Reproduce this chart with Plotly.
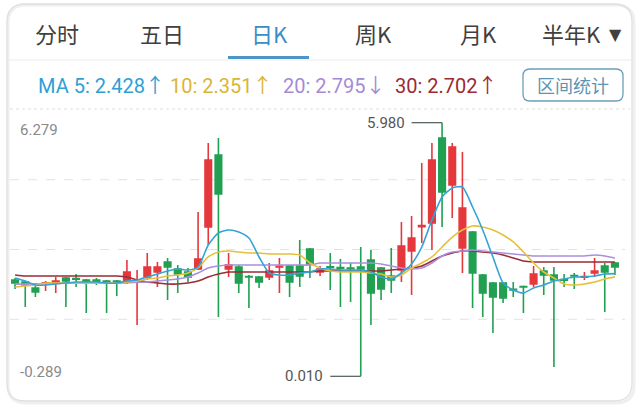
import plotly.graph_objects as go

# ---------------- data ----------------
idx = list(range(60))
opens = [2.277, 2.230, 2.089, 2.206, 2.206, 2.324, 2.310, 2.277, 2.277, 2.253,
         2.253, 2.230, 2.240, 2.348, 2.465, 2.701, 2.536, 2.465, 2.536, 3.525,
         5.220, 2.536, 2.583, 2.360, 2.348, 2.348, 2.583, 2.607, 2.607, 3.007,
         2.465, 2.590, 2.570, 2.560, 2.583, 2.748, 2.560, 2.371, 2.512, 2.960,
         3.530, 3.619, 5.620, 4.513, 3.030, 3.407, 2.395, 2.206, 2.206, 2.060,
         2.125, 2.183, 2.489, 2.395, 2.285, 2.380, 2.340, 2.442, 2.607, 2.677]
highs = [2.324, 2.253, 2.136, 2.253, 2.348, 2.348, 2.418, 2.300, 2.324, 2.277,
         2.277, 2.748, 2.512, 2.913, 2.701, 2.795, 2.630, 2.560, 3.878, 5.502,
         5.620, 2.913, 2.630, 2.395, 2.371, 2.677, 2.795, 2.630, 3.219, 3.030,
         2.607, 2.913, 2.771, 2.677, 3.054, 2.983, 2.583, 3.030, 3.642, 3.784,
         5.031, 5.502, 5.980, 5.502, 5.290, 3.430, 2.418, 2.230, 2.230, 2.230,
         2.150, 2.607, 2.583, 2.583, 2.418, 2.442, 2.465, 2.795, 2.677, 2.700]
lows = [2.065, 1.641, 1.877, 2.018, 1.971, 1.641, 2.112, 1.500, 2.159, 1.500,
        1.900, 2.183, 1.218, 2.277, 2.112, 1.806, 1.971, 2.230, 2.512, 3.101,
        1.406, 2.348, 1.971, 1.618, 2.089, 2.277, 1.971, 1.877, 2.112, 2.324,
        2.371, 2.042, 1.641, 1.759, 0.010, 1.218, 1.806, 1.971, 2.230, 1.924,
        3.148, 2.983, 3.525, 3.737, 2.442, 1.618, 1.406, 1.029, 1.735, 1.877,
        1.500, 2.112, 1.924, 0.229, 2.112, 2.065, 2.277, 2.348, 1.524, 2.395]
closes = [2.206, 2.159, 1.995, 2.214, 2.253, 2.253, 2.295, 2.230, 2.230, 2.206,
          2.206, 2.465, 2.253, 2.583, 2.583, 2.583, 2.418, 2.348, 2.771, 5.102,
          4.302, 2.630, 2.206, 2.348, 2.230, 2.489, 2.600, 2.230, 2.371, 2.654,
          2.536, 2.575, 2.555, 2.545, 2.536, 1.971, 2.065, 2.277, 3.077, 3.266,
          3.560, 5.102, 4.349, 5.408, 3.972, 2.442, 1.971, 1.877, 1.853, 2.042,
          2.112, 2.418, 2.395, 2.277, 2.270, 2.371, 2.360, 2.489, 2.465, 2.583]

ma5 = [2.324, 2.253, 2.159, 2.159, 2.183, 2.206, 2.230, 2.230, 2.230, 2.206,
       2.206, 2.253, 2.277, 2.348, 2.418, 2.489, 2.536, 2.512, 2.583, 3.101,
       3.383, 3.454, 3.407, 3.266, 2.819, 2.442, 2.395, 2.395, 2.442, 2.465,
       2.536, 2.536, 2.512, 2.512, 2.512, 2.465, 2.348, 2.300, 2.442, 2.654,
       3.054, 3.689, 4.231, 4.443, 4.466, 3.996, 3.454, 2.819, 2.206, 2.042,
       1.971, 2.089, 2.159, 2.253, 2.300, 2.348, 2.348, 2.371, 2.418, 2.428]
ma10 = [2.112, 2.136, 2.159, 2.206, 2.206, 2.206, 2.206, 2.206, 2.206, 2.206,
        2.206, 2.230, 2.253, 2.300, 2.324, 2.371, 2.395, 2.442, 2.560, 2.819,
        2.936, 2.960, 2.936, 2.913, 2.913, 2.889, 2.889, 2.889, 2.866, 2.677,
        2.560, 2.489, 2.465, 2.465, 2.465, 2.442, 2.418, 2.348, 2.395, 2.560,
        2.677, 2.819, 3.054, 3.289, 3.454, 3.548, 3.525, 3.454, 3.337, 3.172,
        2.936, 2.677, 2.465, 2.324, 2.183, 2.159, 2.183, 2.230, 2.300, 2.351]
ma20 = [2.180, 2.180, 2.190, 2.190, 2.200, 2.200, 2.200, 2.210, 2.210, 2.210,
        2.210, 2.210, 2.220, 2.230, 2.253, 2.277, 2.300, 2.348, 2.442, 2.560,
        2.607, 2.630, 2.630, 2.630, 2.630, 2.630, 2.630, 2.630, 2.630, 2.630,
        2.677, 2.677, 2.677, 2.677, 2.677, 2.677, 2.654, 2.607, 2.560, 2.536,
        2.560, 2.677, 2.842, 2.936, 2.960, 2.983, 2.960, 2.936, 2.913, 2.889,
        2.866, 2.842, 2.842, 2.842, 2.842, 2.842, 2.842, 2.866, 2.842, 2.795]
ma30 = [2.395, 2.371, 2.371, 2.371, 2.371, 2.371, 2.371, 2.371, 2.371, 2.371,
        2.371, 2.348, 2.277, 2.230, 2.206, 2.183, 2.183, 2.206, 2.253, 2.348,
        2.418, 2.465, 2.465, 2.465, 2.465, 2.465, 2.465, 2.465, 2.465, 2.465,
        2.489, 2.489, 2.489, 2.489, 2.489, 2.489, 2.489, 2.512, 2.536, 2.560,
        2.607, 2.724, 2.842, 2.913, 2.960, 2.960, 2.936, 2.913, 2.866, 2.795,
        2.724, 2.701, 2.701, 2.701, 2.701, 2.701, 2.701, 2.701, 2.701, 2.702]

tabs = ["分时", "五日", "日K", "周K", "月K", "半年K"]
ma_labels = ["MA 5: 2.428↑", "10: 2.351↑", "20: 2.795↓", "30: 2.702↑"]
y_top_label = "6.279"
y_bot_label = "-0.289"
Y_MAX = 6.279
Y_MIN = -0.289

# ---------------- styles ----------------
RED = "#e5383d"
GREEN = "#22a052"
C_MA5 = "#35a3d6"
C_MA10 = "#e6c03c"
C_MA20 = "#a98fde"
C_MA30 = "#9b2b35"
BLUE = "#3b8ec4"

W, H = 640, 408
L, R, T, B = 10, 20, 110, 19
PW, PH = W - L - R, H - T - B


def px(x):
    return (x - L) / PW


def py(y):
    return (H - B - y) / PH


fig = go.Figure()
fig.add_trace(go.Candlestick(
    x=idx, open=opens, high=highs, low=lows, close=closes,
    increasing=dict(line=dict(color=RED, width=1.6), fillcolor=RED),
    decreasing=dict(line=dict(color=GREEN, width=1.6), fillcolor=GREEN),
    whiskerwidth=0, hoverinfo="skip", showlegend=False))

for vals, col in [(ma30, C_MA30), (ma20, C_MA20), (ma10, C_MA10), (ma5, C_MA5)]:
    fig.add_trace(go.Scatter(x=idx, y=vals, mode="lines",
                             line=dict(color=col, width=1.6, shape="spline", smoothing=0.6),
                             hoverinfo="skip", showlegend=False))

shapes = []
# dashed gridlines
for k in (1, 2, 3):
    v = Y_MIN + k * (Y_MAX - Y_MIN) / 4
    shapes.append(dict(type="line", xref="paper", yref="y", x0=px(10), x1=px(625), y0=v, y1=v,
                       line=dict(color="#e2e2e2", width=1, dash="dash"), layer="below"))
# dotted separator at chart top
shapes.append(dict(type="line", xref="paper", yref="paper", x0=px(10), x1=px(630), y0=py(109), y1=py(109),
                   line=dict(color="#dedede", width=1, dash="dot"), layer="below"))
# tab separator
shapes.append(dict(type="line", xref="paper", yref="paper", x0=px(8), x1=px(632), y0=py(60), y1=py(60),
                   line=dict(color="#ebebeb", width=1.2)))
# active tab underline
shapes.append(dict(type="rect", xref="paper", yref="paper", x0=px(228), x1=px(309), y0=py(59), y1=py(56),
                   line=dict(width=0), fillcolor="#4d95c6"))


def rrect(x0, y0, x1, y1, r):
    rx, ry = r / PW, r / PH
    X0, X1, Y0, Y1 = px(x0), px(x1), py(y0), py(y1)  # Y0 top, Y1 bottom
    return (f"M{X0+rx},{Y0} L{X1-rx},{Y0} Q{X1},{Y0} {X1},{Y0-ry} "
            f"L{X1},{Y1+ry} Q{X1},{Y1} {X1-rx},{Y1} L{X0+rx},{Y1} "
            f"Q{X0},{Y1} {X0},{Y1+ry} L{X0},{Y0-ry} Q{X0},{Y0} {X0+rx},{Y0} Z")


# card shadow + outline
shapes.append(dict(type="path", xref="paper", yref="paper", path=rrect(8, 5, 634, 403, 18),
                   line=dict(color="#efefef", width=3), layer="below"))
shapes.append(dict(type="path", xref="paper", yref="paper", path=rrect(7, 4, 632, 401, 18),
                   line=dict(color="#e0e0e0", width=1.3), layer="below"))
# button
shapes.append(dict(type="path", xref="paper", yref="paper", path=rrect(523, 69, 623, 101, 7),
                   line=dict(color="#6b9fba", width=1.3)))

# max / min leader lines
imax = max(idx, key=lambda i: highs[i])
imin = min(idx, key=lambda i: lows[i])
shapes.append(dict(type="line", xref="x", yref="y", x0=imax - 3.0, x1=imax, y0=highs[imax], y1=highs[imax],
                   line=dict(color="#4f5a55", width=1.2)))
shapes.append(dict(type="line", xref="x", yref="y", x0=imin - 3.0, x1=imin, y0=lows[imin], y1=lows[imin],
                   line=dict(color="#4f5a55", width=1.2)))

ann = []
tab_x = [57, 162, 269, 373, 478, 571]
for t, xx in zip(tabs, tab_x):
    ann.append(dict(text=t, x=px(xx), y=py(33), xref="paper", yref="paper", showarrow=False,
                    xanchor="center", yanchor="middle",
                    font=dict(family="Noto Sans CJK SC", size=22, color=BLUE if t == "日K" else "#404040")))
ann.append(dict(text="▼", x=px(615), y=py(34), xref="paper", yref="paper", showarrow=False,
                xanchor="center", yanchor="middle", font=dict(family="DejaVu Sans", size=16, color="#404040")))

leg_x = [36, 168, 281, 393]
for t, xx, col in zip(ma_labels, leg_x, ["#2f9fd4", "#dab535", "#a68ad8", "#9c2a32"]):
    body, arrow = t[:-1], t[-1]
    txt = f'{body}<span style="font-family:Noto Sans CJK SC">{arrow}</span>'
    ann.append(dict(text=txt, x=px(xx), y=py(85), xref="paper", yref="paper", showarrow=False,
                    xanchor="left", yanchor="middle", font=dict(family="Roboto", size=20, color=col)))
ann.append(dict(text="区间统计", x=px(573), y=py(85), xref="paper", yref="paper", showarrow=False,
                xanchor="center", yanchor="middle",
                font=dict(family="Noto Sans CJK SC", size=18, color="#5b95b3")))

ann.append(dict(text=y_top_label, x=px(18), y=py(130), xref="paper", yref="paper", showarrow=False,
                xanchor="left", yanchor="middle", font=dict(family="Roboto", size=15, color="#8a8a8a")))
ann.append(dict(text=y_bot_label, x=px(18), y=py(372), xref="paper", yref="paper", showarrow=False,
                xanchor="left", yanchor="middle", font=dict(family="Roboto", size=15, color="#8a8a8a")))

ann.append(dict(text=f"{highs[imax]:.3f}", x=imax - 3.0, y=highs[imax], xref="x", yref="y", showarrow=False,
                xanchor="right", yanchor="middle", xshift=-5,
                font=dict(family="Roboto", size=15, color="#555555")))
ann.append(dict(text=f"{lows[imin]:.3f}", x=imin - 3.0, y=lows[imin], xref="x", yref="y", showarrow=False,
                xanchor="right", yanchor="middle", xshift=-5,
                font=dict(family="Roboto", size=15, color="#555555")))

fig.update_layout(
    width=W, height=H, margin=dict(l=L, r=R, t=T, b=B),
    paper_bgcolor="white", plot_bgcolor="rgba(0,0,0,0)",
    showlegend=False, boxgap=0.2, boxgroupgap=0.2, hovermode=False,
    xaxis=dict(range=[-0.5, 59.5], visible=False, rangeslider=dict(visible=False), fixedrange=True),
    yaxis=dict(range=[Y_MIN, Y_MAX], visible=False, fixedrange=True),
    shapes=shapes, annotations=ann,
)

fig.write_html("out.html", config={"displayModeBar": False},
               post_script="document.body.style.margin='0px';")
